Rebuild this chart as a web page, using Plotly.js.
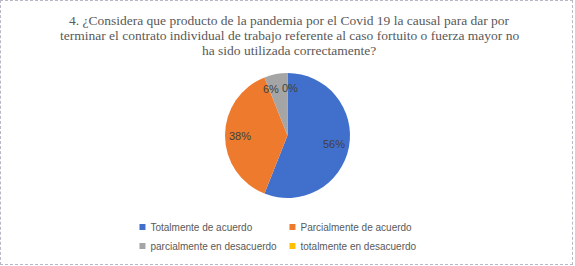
<!DOCTYPE html>
<html>
<head>
<meta charset="utf-8">
<script src="https://cdn.plot.ly/plotly-3.0.1.min.js"></script>
<style>
html,body{margin:0;padding:0;background:#fff;}
#frame{position:absolute;left:0;top:0;width:571px;height:263px;border:1px dashed #b8b8c8;box-sizing:content-box;pointer-events:none;}
#chart{position:absolute;left:0;top:0;width:575px;height:266px;}
.legendpoints path{transform:translate(32px,0) scale(0.5);}
.legend .scrollbox{clip-path:none !important;}
</style>
</head>
<body>
<div id="chart"></div>
<div id="frame"></div>
<script>
const categories = ["Totalmente de acuerdo", "Parcialmente de acuerdo", "parcialmente en desacuerdo", "totalmente en desacuerdo"];
const values = [56, 38, 6, 0];
const percentLabels = ["56%", "38%", "6%", "0%"];
const colors = ["#4170CC", "#EE7A2E", "#A5A5A5", "#FFC000"];
const titleLines = [
  "4. ¿Considera que producto de la pandemia por el Covid 19 la causal para dar por",
  "terminar el contrato individual de trabajo referente al caso fortuito o fuerza mayor no",
  "ha sido utilizada correctamente?"
];

const W = 575, H = 266;
const M = {l: 130, r: 130, t: 73, b: 68, autoexpand: false};
const plotW = W - M.l - M.r, plotH = H - M.t - M.b;

// pixel -> paper helpers (layout placement only)
const px2x = p => (p - M.l) / plotW;
const py2y = p => (H - M.b - p) / plotH;

const titleFont = {family: "Liberation Serif, Times New Roman, serif", size: 13.5, color: "#595959"};
const titleY = [20, 35.3, 50.6];
const titleAnnotations = titleLines.map((t, i) => ({
  xref: "paper", yref: "paper",
  x: px2x(289), y: py2y(titleY[i]),
  xanchor: "center", yanchor: "middle",
  text: t, showarrow: false, font: titleFont
}));

const trace = {
  type: "pie",
  labels: categories,
  values: values,
  marker: {colors: colors, line: {color: "#ffffff", width: 0}},
  sort: false,
  direction: "clockwise",
  rotation: 0,
  textinfo: "none",
  hoverinfo: "label+percent",
  domain: {x: [0, 1], y: [0, 1]},
  showlegend: true
};

const layout = {
  width: W,
  height: H,
  margin: M,
  paper_bgcolor: "#ffffff",
  plot_bgcolor: "#ffffff",
  annotations: titleAnnotations,
  showlegend: true,
  legend: {
    orientation: "h",
    x: -0.062, xanchor: "left",
    y: -0.116, yanchor: "top",
    entrywidth: 105,
    entrywidthmode: "pixels",
    font: {family: "Liberation Sans, Arial, sans-serif", size: 10, color: "#595959"},
    itemclick: false
  }
};

const gd = document.getElementById("chart");
Plotly.newPlot(gd, [trace], layout, {displayModeBar: false, staticPlot: true}).then(() => {
  // Data labels at each slice's mid-angle, using the pie geometry computed by Plotly
  const cd0 = gd.calcdata[0][0];
  const sz = gd._fullLayout._size;
  const R = cd0.r, cx = cd0.cx, cy = cd0.cy;
  const total = values.reduce((a, b) => a + b, 0);
  const labelShift = [0, 0, -8, 2];
  let cum = 0;
  const pctAnn = values.map((v, i) => {
    const mid = (cum + v / 2) / total * 2 * Math.PI;
    cum += v;
    const rf = 0.76 * R;
    const px = cx + rf * Math.sin(mid);
    const py = cy - rf * Math.cos(mid);
    return {
      xref: "paper", yref: "paper",
      x: (px - sz.l) / sz.w,
      y: (sz.t + sz.h - py) / sz.h,
      xanchor: "center", yanchor: "middle",
      xshift: labelShift[i],
      text: percentLabels[i],
      showarrow: false,
      font: {family: "Liberation Sans, Arial, sans-serif", size: 11, color: "#404040"}
    };
  });
  return Plotly.relayout(gd, {annotations: titleAnnotations.concat(pctAnn)});
});
</script>
</body>
</html>
